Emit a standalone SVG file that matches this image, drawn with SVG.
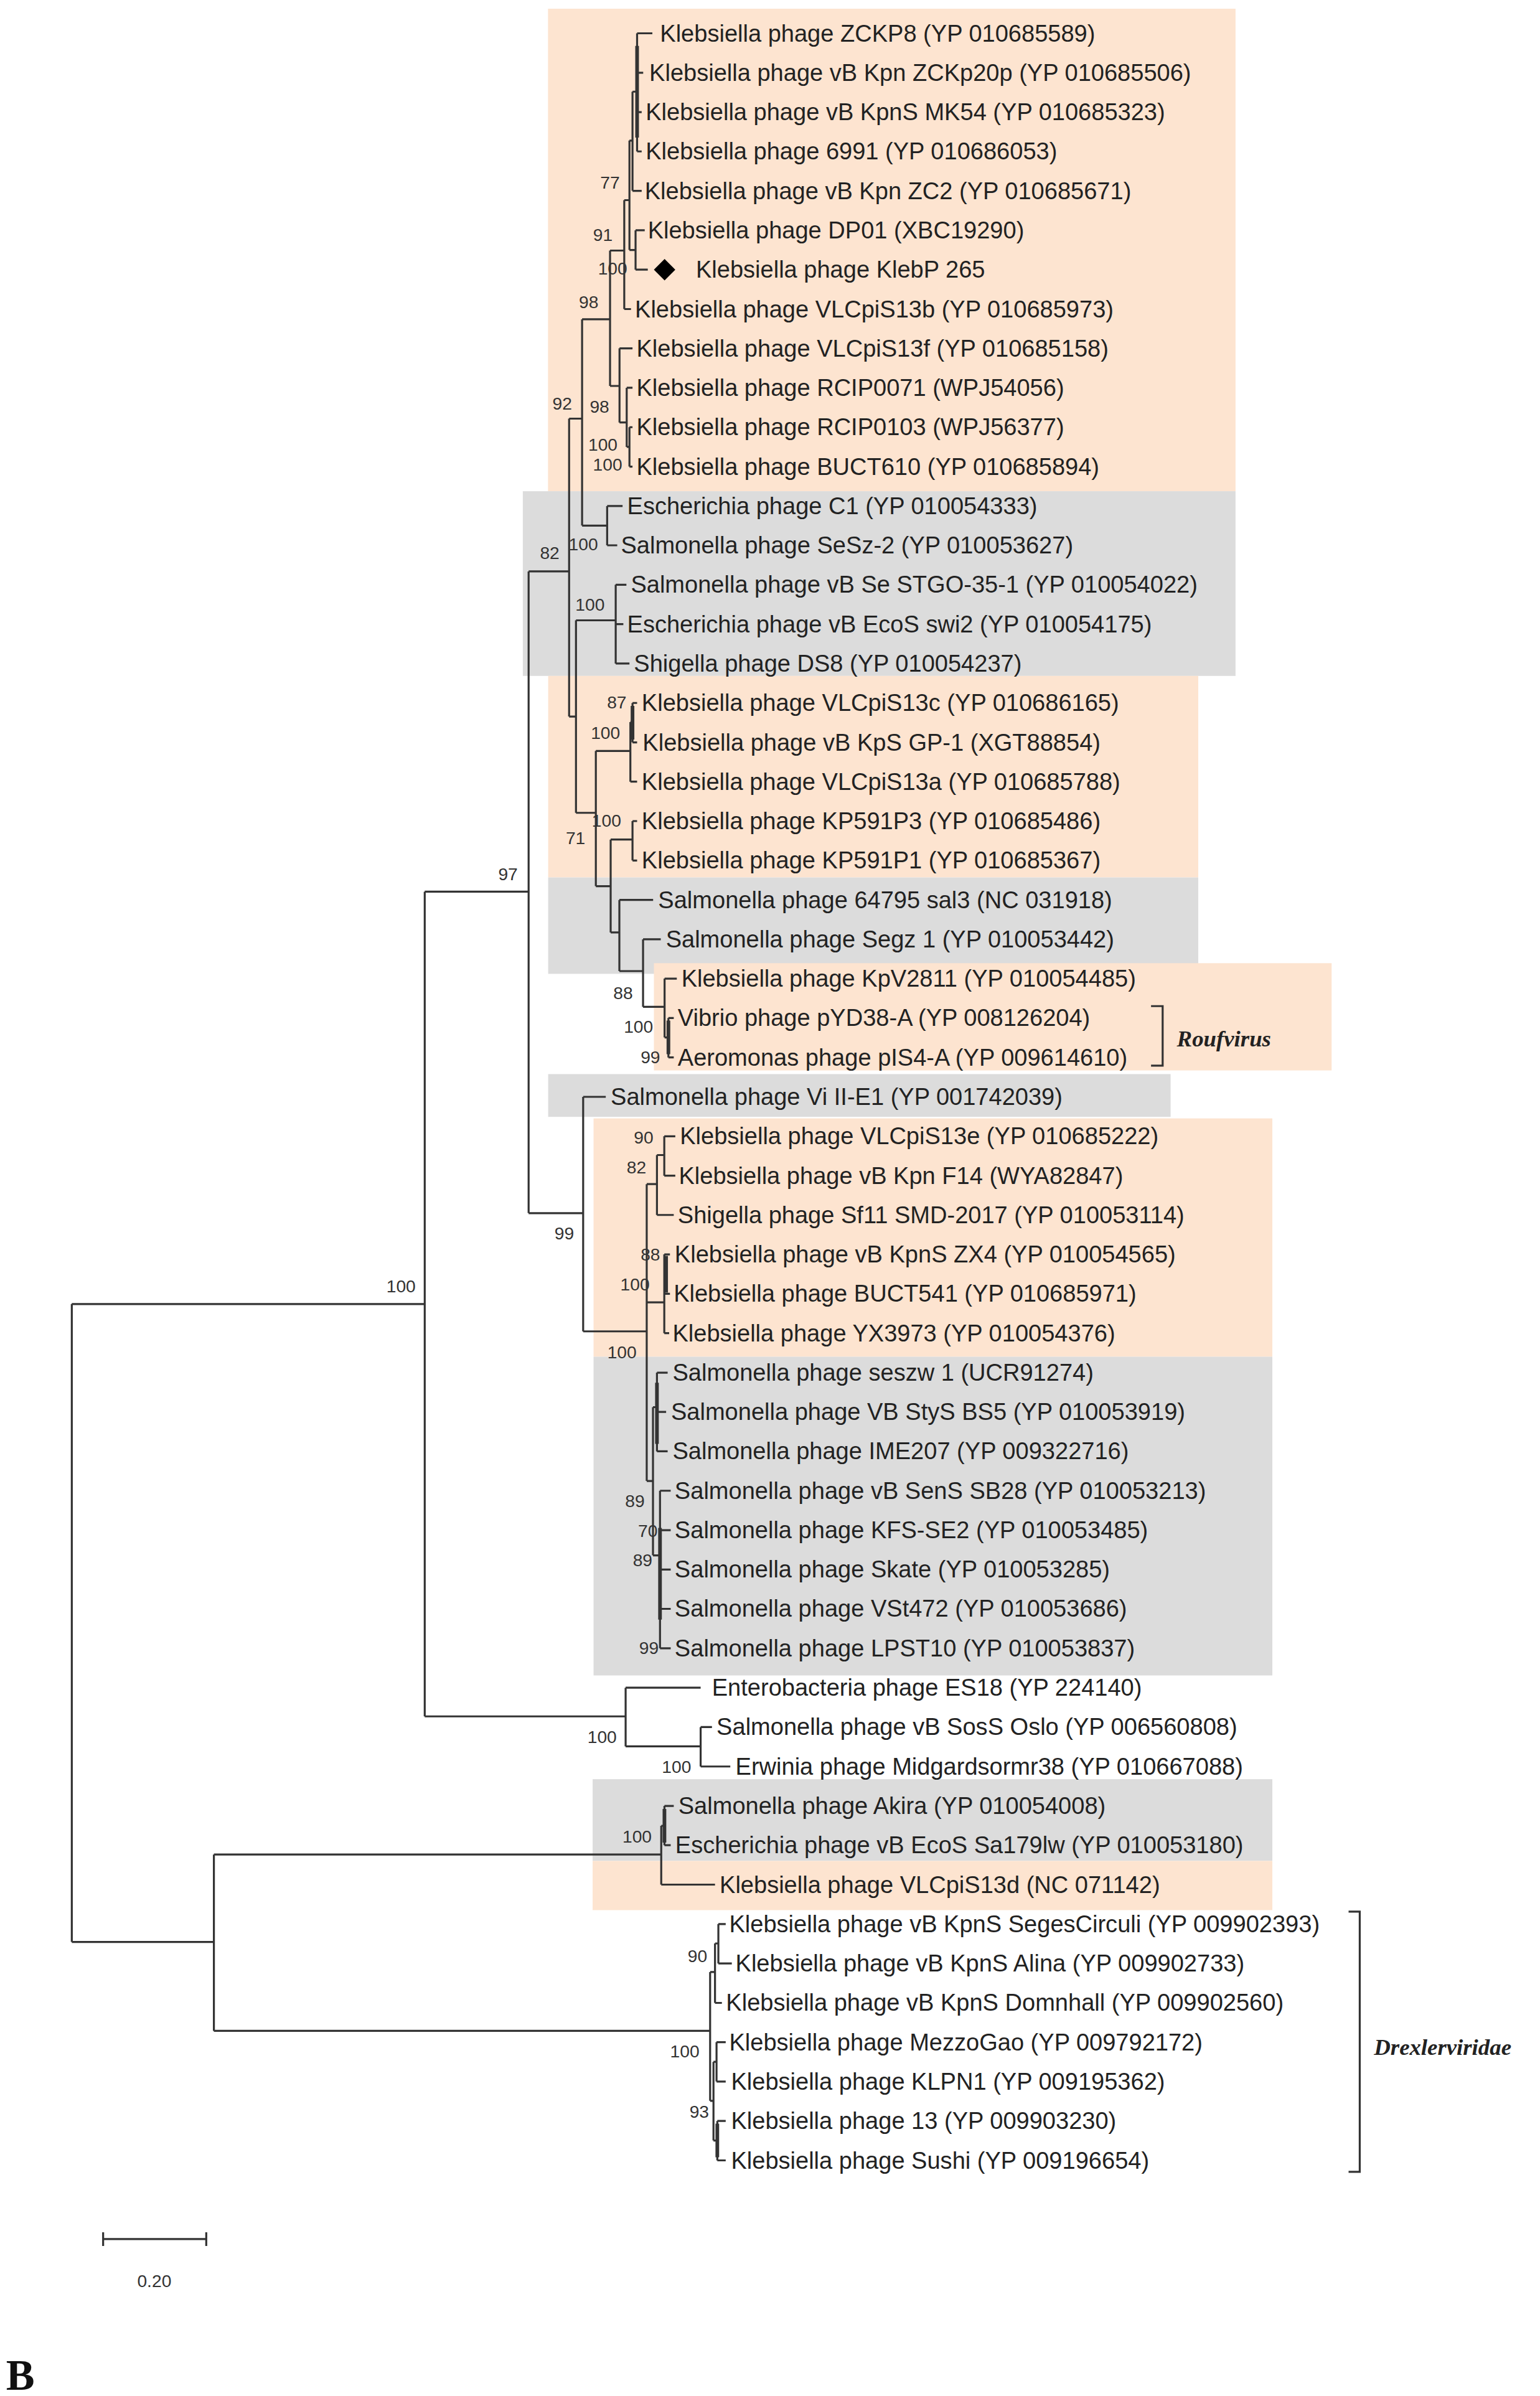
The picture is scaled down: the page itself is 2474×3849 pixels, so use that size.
<svg xmlns="http://www.w3.org/2000/svg" width="2474" height="3849" viewBox="0 0 2474 3849">
<style>
.lf{font-family:"Liberation Sans",Arial,sans-serif;font-size:15.5px;fill:#222}
.bs{font-family:"Liberation Sans",Arial,sans-serif;font-size:11.5px;fill:#333;text-anchor:middle}
.br{fill:none;stroke:#333;stroke-width:1.3}
.tx{font-family:"Liberation Serif","Times New Roman",serif;font-weight:bold;font-style:italic;font-size:15px;fill:#222}
.or{fill:#fde4d0}.gr{fill:#dcdcdc}
</style>
<rect width="2474" height="3849" fill="#fff"/>
<g transform="scale(2.4544)">
<g id="backgrounds">
<rect class="or" x="358.7" y="5.7" width="450" height="315.8"/>
<rect class="gr" x="342.2" y="321.5" width="466.5" height="120.9"/>
<rect class="or" x="358.8" y="442.4" width="425.5" height="131.9"/>
<rect class="gr" x="358.8" y="574.3" width="425.5" height="63.1"/>
<rect class="or" x="428" y="630.4" width="443.6" height="70.2"/>
<rect class="gr" x="358.8" y="703" width="407.4" height="28"/>
<rect class="or" x="388.5" y="732" width="444.3" height="156"/>
<rect class="gr" x="388.5" y="888" width="444.3" height="208.6"/>
<rect class="gr" x="387.9" y="1164.5" width="444.9" height="53.5"/>
<rect class="or" x="387.9" y="1218" width="444.9" height="32.2"/>
</g>
<g id="connectors" class="br">
<path d="M47 853.5V1271M47 853.5H278M47 1271H140
M278 583.6V1123.4M278 583.6H346M278 1123.4H409.5
M346 374V794M346 374H372.5M346 794H381.7
M372.5 274V469M372.5 274H381M372.5 469H377
M381 209V344M381 209H399.3M381 344H397.4
M399.3 164V252.6M399.3 164H408.6M399.3 252.6H405.5
M408.6 131V202.3M408.6 202.3H413M408.6 131H412
M412 92V163.6M412 92H414M412 163.6H416
M414 60V124.9M414 60H417M414 124.9H420
M417 21.8V99.1M417 21.8H427M417 47.6H421M417 73.4H420M417 99.1H420
M416 150.7V176.5M416 150.7H422M416 176.5H424
M405.5 228V276.5M405.5 228H414M405.5 276.5H410.2
M410.2 253.8V292.5M410.2 253.8H414M410.2 292.5H412
M412 279.6V305.4M412 279.6H414M412 305.4H414
M397.4 331.2V356.9M397.4 331.2H407.5M397.4 356.9H404
M377 406V532M377 406H403M377 532H390
M403 382.7V434.3M403 382.7H410M403 408.5H408M403 434.3H412
M390 491.5V580M390 491.5H412.6M390 580H399.7
M412.6 472.6V511.6M412.6 472.6H414M412.6 511.6H417
M414 460.1V485.9M414 460.1H417M414 485.9H417
M399.7 549.5V610.3M399.7 549.5H414M399.7 610.3H405.4
M414 537.4V563.2M414 537.4H417M414 563.2H417
M405.4 589V635.6M405.4 589H427.5M405.4 635.6H420.9
M420.9 614.8V659M420.9 614.8H432.5M420.9 659H435
M435 640.5V679M435 640.5H443M435 679H437.5
M437.5 666.3V692.1M437.5 666.3H441M437.5 692.1H441
M381.7 717.9V871.4M381.7 717.9H396.5M381.7 871.4H423.3
M423.3 775V969.3M423.3 775H430M423.3 852.4H434.8M423.3 969.3H427.4
M430 756V795.2M430 756H434.8M430 795.2H441
M434.8 743.7V769.5M434.8 743.7H442M434.8 769.5H442
M434.8 821V872.6M434.8 821H438.5M434.8 846.8H438.5M434.8 872.6H438
M427.4 921V1018M427.4 921H430M427.4 1018H432
M430 898.4V949.9M430 898.4H437M430 924.1H436M430 949.9H437
M432 975.7V1078.8M432 975.7H439M432 1001.5H439M432 1027.3H439M432 1053H439M432 1078.8H439
M409.5 1104.6V1143M409.5 1104.6H458.6M409.5 1143H458.6
M458.6 1130.4V1156.2M458.6 1130.4H466M458.6 1156.2H478
M140 1213.8V1329.2M140 1213.8H432.8M140 1329.2H464.8
M432.8 1195V1233.5M432.8 1195H434.9M432.8 1233.5H468
M434.9 1182V1207.7M434.9 1182H441M434.9 1207.7H439
M464.8 1290.7V1375M464.8 1290.7H468M464.8 1375H467
M468 1272V1310.9M468 1272H470.2M468 1310.9H472.5
M470.2 1259.3V1285.1M470.2 1259.3H475M470.2 1285.1H479
M467 1349.5V1401M467 1349.5H469M467 1401H469.5
M469 1336.6V1362.4M469 1336.6H475M469 1362.4H475
M469.5 1388.2V1414M469.5 1388.2H475M469.5 1414H475"/>
<path stroke-width="2.4" d="M417 30V90M414 462V484M436 822V846M437.5 668V690M434.9 1184V1206M432 1000V1060M430 905V945M469.5 1390V1412"/>
</g>
<g id="leaves">
<g id="leaf-1"><text class="lf" x="432" y="27.1">Klebsiella phage ZCKP8 (YP 010685589)</text></g>
<g id="leaf-2"><text class="lf" x="425" y="52.9">Klebsiella phage vB Kpn ZCKp20p (YP 010685506)</text></g>
<g id="leaf-3"><text class="lf" x="422.6" y="78.7">Klebsiella phage vB KpnS MK54 (YP 010685323)</text></g>
<g id="leaf-4"><text class="lf" x="422.6" y="104.4">Klebsiella phage 6991 (YP 010686053)</text></g>
<g id="leaf-5"><text class="lf" x="422" y="130.2">Klebsiella phage vB Kpn ZC2 (YP 010685671)</text></g>
<g id="leaf-6"><text class="lf" x="424" y="156">Klebsiella phage DP01 (XBC19290)</text></g>
<g id="leaf-7"><path d="M435 169.5L442 176.5L435 183.5L428 176.5Z" fill="#000"/><text class="lf" x="455.5" y="181.8">Klebsiella phage KlebP 265</text></g>
<g id="leaf-8"><text class="lf" x="415.6" y="207.6">Klebsiella phage VLCpiS13b (YP 010685973)</text></g>
<g id="leaf-9"><text class="lf" x="416.6" y="233.3">Klebsiella phage VLCpiS13f (YP 010685158)</text></g>
<g id="leaf-10"><text class="lf" x="416.6" y="259.1">Klebsiella phage RCIP0071 (WPJ54056)</text></g>
<g id="leaf-11"><text class="lf" x="416.6" y="284.9">Klebsiella phage RCIP0103 (WPJ56377)</text></g>
<g id="leaf-12"><text class="lf" x="416.6" y="310.7">Klebsiella phage BUCT610 (YP 010685894)</text></g>
<g id="leaf-13"><text class="lf" x="410.5" y="336.5">Escherichia phage C1 (YP 010054333)</text></g>
<g id="leaf-14"><text class="lf" x="406.4" y="362.2">Salmonella phage SeSz-2 (YP 010053627)</text></g>
<g id="leaf-15"><text class="lf" x="412.9" y="388">Salmonella phage vB Se STGO-35-1 (YP 010054022)</text></g>
<g id="leaf-16"><text class="lf" x="410.5" y="413.8">Escherichia phage vB EcoS swi2 (YP 010054175)</text></g>
<g id="leaf-17"><text class="lf" x="414.9" y="439.6">Shigella phage DS8 (YP 010054237)</text></g>
<g id="leaf-18"><text class="lf" x="420" y="465.4">Klebsiella phage VLCpiS13c (YP 010686165)</text></g>
<g id="leaf-19"><text class="lf" x="420.6" y="491.2">Klebsiella phage vB KpS GP-1 (XGT88854)</text></g>
<g id="leaf-20"><text class="lf" x="420" y="516.9">Klebsiella phage VLCpiS13a (YP 010685788)</text></g>
<g id="leaf-21"><text class="lf" x="420" y="542.7">Klebsiella phage KP591P3 (YP 010685486)</text></g>
<g id="leaf-22"><text class="lf" x="420" y="568.5">Klebsiella phage KP591P1 (YP 010685367)</text></g>
<g id="leaf-23"><text class="lf" x="430.8" y="594.3">Salmonella phage 64795 sal3 (NC 031918)</text></g>
<g id="leaf-24"><text class="lf" x="435.8" y="620.1">Salmonella phage Segz 1 (YP 010053442)</text></g>
<g id="leaf-25"><text class="lf" x="446" y="645.8">Klebsiella phage KpV2811 (YP 010054485)</text></g>
<g id="leaf-26"><text class="lf" x="443.6" y="671.6">Vibrio phage pYD38-A (YP 008126204)</text></g>
<g id="leaf-27"><text class="lf" x="443.6" y="697.4">Aeromonas phage pIS4-A (YP 009614610)</text></g>
<g id="leaf-28"><text class="lf" x="399.7" y="723.2">Salmonella phage Vi II-E1 (YP 001742039)</text></g>
<g id="leaf-29"><text class="lf" x="445" y="749">Klebsiella phage VLCpiS13e (YP 010685222)</text></g>
<g id="leaf-30"><text class="lf" x="444.3" y="774.8">Klebsiella phage vB Kpn F14 (WYA82847)</text></g>
<g id="leaf-31"><text class="lf" x="443.6" y="800.5">Shigella phage Sf11 SMD-2017 (YP 010053114)</text></g>
<g id="leaf-32"><text class="lf" x="441.6" y="826.3">Klebsiella phage vB KpnS ZX4 (YP 010054565)</text></g>
<g id="leaf-33"><text class="lf" x="440.9" y="852.1">Klebsiella phage BUCT541 (YP 010685971)</text></g>
<g id="leaf-34"><text class="lf" x="440.2" y="877.9">Klebsiella phage YX3973 (YP 010054376)</text></g>
<g id="leaf-35"><text class="lf" x="440.2" y="903.7">Salmonella phage seszw 1 (UCR91274)</text></g>
<g id="leaf-36"><text class="lf" x="439.2" y="929.4">Salmonella phage VB StyS BS5 (YP 010053919)</text></g>
<g id="leaf-37"><text class="lf" x="440.2" y="955.2">Salmonella phage IME207 (YP 009322716)</text></g>
<g id="leaf-38"><text class="lf" x="441.6" y="981">Salmonella phage vB SenS SB28 (YP 010053213)</text></g>
<g id="leaf-39"><text class="lf" x="441.6" y="1006.8">Salmonella phage KFS-SE2 (YP 010053485)</text></g>
<g id="leaf-40"><text class="lf" x="441.6" y="1032.6">Salmonella phage Skate (YP 010053285)</text></g>
<g id="leaf-41"><text class="lf" x="441.6" y="1058.3">Salmonella phage VSt472 (YP 010053686)</text></g>
<g id="leaf-42"><text class="lf" x="441.6" y="1084.1">Salmonella phage LPST10 (YP 010053837)</text></g>
<g id="leaf-43"><text class="lf" x="466" y="1109.9">Enterobacteria phage ES18 (YP 224140)</text></g>
<g id="leaf-44"><text class="lf" x="469" y="1135.7">Salmonella phage vB SosS Oslo (YP 006560808)</text></g>
<g id="leaf-45"><text class="lf" x="481.4" y="1161.5">Erwinia phage Midgardsormr38 (YP 010667088)</text></g>
<g id="leaf-46"><text class="lf" x="444" y="1187.3">Salmonella phage Akira (YP 010054008)</text></g>
<g id="leaf-47"><text class="lf" x="442" y="1213">Escherichia phage vB EcoS Sa179lw (YP 010053180)</text></g>
<g id="leaf-48"><text class="lf" x="471" y="1238.8">Klebsiella phage VLCpiS13d (NC 071142)</text></g>
<g id="leaf-49"><text class="lf" x="477.3" y="1264.6">Klebsiella phage vB KpnS SegesCirculi (YP 009902393)</text></g>
<g id="leaf-50"><text class="lf" x="481.4" y="1290.4">Klebsiella phage vB KpnS Alina (YP 009902733)</text></g>
<g id="leaf-51"><text class="lf" x="475.2" y="1316.2">Klebsiella phage vB KpnS Domnhall (YP 009902560)</text></g>
<g id="leaf-52"><text class="lf" x="477.3" y="1341.9">Klebsiella phage MezzoGao (YP 009792172)</text></g>
<g id="leaf-53"><text class="lf" x="478.5" y="1367.7">Klebsiella phage KLPN1 (YP 009195362)</text></g>
<g id="leaf-54"><text class="lf" x="478.5" y="1393.5">Klebsiella phage 13 (YP 009903230)</text></g>
<g id="leaf-55"><text class="lf" x="478.5" y="1419.3">Klebsiella phage Sushi (YP 009196654)</text></g>
</g>
<g id="bootstrap">
<text class="bs" x="399.3" y="123.5">77</text>
<text class="bs" x="394.6" y="157.8">91</text>
<text class="bs" x="401" y="179.7">100</text>
<text class="bs" x="385.3" y="201.5">98</text>
<text class="bs" x="368" y="268">92</text>
<text class="bs" x="392.4" y="270">98</text>
<text class="bs" x="394.6" y="295">100</text>
<text class="bs" x="397.7" y="308">100</text>
<text class="bs" x="359.8" y="365.7">82</text>
<text class="bs" x="381.8" y="360">100</text>
<text class="bs" x="386.2" y="399.6">100</text>
<text class="bs" x="403.7" y="463.7">87</text>
<text class="bs" x="396.3" y="483.5">100</text>
<text class="bs" x="397" y="541">100</text>
<text class="bs" x="376.7" y="552.6">71</text>
<text class="bs" x="407.8" y="653.8">88</text>
<text class="bs" x="417.9" y="676">100</text>
<text class="bs" x="425.7" y="695.8">99</text>
<text class="bs" x="332.5" y="576">97</text>
<text class="bs" x="262.5" y="846">100</text>
<text class="bs" x="421.3" y="748.6">90</text>
<text class="bs" x="416.6" y="768">82</text>
<text class="bs" x="369.3" y="811">99</text>
<text class="bs" x="425.7" y="825.2">88</text>
<text class="bs" x="415.6" y="844.7">100</text>
<text class="bs" x="407.1" y="888.9">100</text>
<text class="bs" x="415.6" y="986.3">89</text>
<text class="bs" x="424" y="1005.8">70</text>
<text class="bs" x="420.6" y="1025.3">89</text>
<text class="bs" x="424.7" y="1082.4">99</text>
<text class="bs" x="394.1" y="1140.9">100</text>
<text class="bs" x="442.8" y="1160.2">100</text>
<text class="bs" x="417" y="1206">100</text>
<text class="bs" x="456.5" y="1284.3">90</text>
<text class="bs" x="448.2" y="1346.7">100</text>
<text class="bs" x="457.7" y="1386.2">93</text>
</g>
<g id="clade-roufvirus">
<path class="br" d="M753.4 658.5H761V697.5H753.4"/>
<text class="tx" x="770.3" y="685">Roufvirus</text>
</g>
<g id="clade-drexlerviridae">
<path class="br" d="M882.7 1251.2H890V1421.5H882.7"/>
<text class="tx" x="899.3" y="1345">Drexlerviridae</text>
</g>
<g id="scale-bar">
<path class="br" d="M67.5 1465.5H135M67.5 1461V1470M135 1461V1470"/>
<text class="bs" x="101" y="1497">0.20</text>
</g>
<text x="4" y="1564" font-family="Liberation Serif,serif" font-weight="bold" font-size="28" fill="#111">B</text>
</g>
</svg>
